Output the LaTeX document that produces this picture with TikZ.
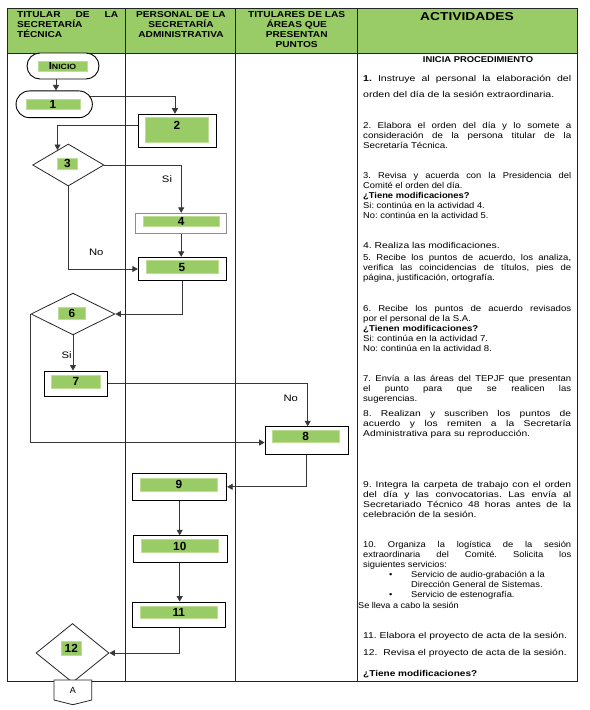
\documentclass[tikz,border=0pt]{standalone}
\usepackage{fontspec}
\usepackage{graphicx}
\setmainfont{Liberation Sans}
\usetikzlibrary{shapes.geometric,arrows.meta,calc}
\definecolor{hgreen}{RGB}{153,204,102}
\definecolor{lgreen}{RGB}{153,204,102}
\definecolor{lgborder}{RGB}{190,222,150}
\definecolor{tline}{RGB}{35,35,35}
\definecolor{cline}{RGB}{55,55,55}
\newlength{\pw}
\newcommand{\J}[1]{\makebox[\pw][s]{#1}}
\newcommand{\bodyfont}{\fontsize{8.5bp}{10bp}\selectfont\frenchspacing}
\newcommand{\actpara}[3]{\setlength{\pw}{#2}\scalebox{#1}[1]{\parbox[t]{\pw}{\bodyfont #3}}}
\newcommand{\hdfont}{\bfseries\fontsize{8.6bp}{10bp}\selectfont}
\newcommand{\hdbox}[2]{\scalebox{1.18}[1]{\parbox[t]{#1}{\centering\hdfont #2}}}
\begin{document}
\begin{tikzpicture}[x=1bp,y=-1bp,
  tbl/.style={draw=tline,line width=0.9bp},
  box/.style={draw=black,line width=0.9bp,fill=white,inner sep=0pt},
  dia/.style={shape=diamond,draw=black!85,line width=0.8bp,fill=white,inner sep=0pt},
  glab/.style={fill=lgreen,draw=lgborder,line width=0.6bp,inner sep=0pt},
  num/.style={inner sep=0pt,font=\bfseries\fontsize{11.8bp}{12bp}\selectfont},
  arr/.style={draw=cline,line width=0.8bp,-{Triangle[length=5.5bp,width=6bp]}},
  lbl/.style={inner sep=0pt,font=\fontsize{9.4bp}{10bp}\selectfont},
  body/.style={anchor=base west,inner sep=0pt}
]
\useasboundingbox (0,0) rectangle (590,710);
\fill[white] (0,0) rectangle (590,710);

% ---------- table ----------
\fill[hgreen] (7,8) rectangle (577.5,53);
\draw[tbl] (7,8) rectangle (577.5,681);
\draw[tbl] (7,53) -- (577.5,53);
\draw[tbl] (125,8) -- (125,681);
\draw[tbl] (235,8) -- (235,681);
\draw[tbl] (357,8) -- (357,681);

% ---------- header texts ----------
\node[body] (h1) at (17,17.7) {\scalebox{1.18}[1]{\parbox[t]{85.6bp}{\hdfont\makebox[85.6bp][s]{TITULAR DE LA}\\SECRETARÍA\\TÉCNICA}}};
\node[anchor=base,inner sep=0pt] (h2) at (181,17.7) {\hdbox{80bp}{PERSONAL DE LA\\SECRETARÍA\\ADMINISTRATIVA}};
\node[anchor=base,inner sep=0pt] (h3) at (296.7,17.7) {\hdbox{90bp}{TITULARES DE LAS\\ÁREAS QUE\\PRESENTAN\\PUNTOS}};
\node[anchor=base,inner sep=0pt] (h4) at (467,20.7) {\scalebox{1.2}[1]{\bfseries\fontsize{11.5bp}{12bp}\selectfont ACTIVIDADES}};

% ---------- flow nodes ----------
\node[box,rounded corners=13bp,minimum width=72bp,minimum height=26bp] (ini) at (63,66) {};
\node[glab,minimum width=49bp,minimum height=10bp] (inil) at (62.5,66) {};
\node[inner sep=0pt] (init) at (62.5,66) {\scalebox{1.15}[1]{\bfseries\fontsize{10bp}{10bp}\selectfont I\fontsize{7.6bp}{8bp}\selectfont NICIO}};

\node[box,rounded corners=13.3bp,minimum width=76.3bp,minimum height=26.7bp] (n1) at (54.2,104.3) {};
\node[glab,minimum width=54bp,minimum height=10bp] (n1l) at (53,104) {};
\node[num] (n1t) at (n1l.center) {1};

\node[box,line width=1.2bp,minimum width=78.3bp,minimum height=33.3bp] (n2) at (177.5,131) {};
\node[glab,minimum width=62.6bp,minimum height=25.4bp] (n2l) at (177,130) {};
\node[num] (n2t) at ([yshift=5bp]n2l.center) {2};

\node[dia,minimum width=71.3bp,minimum height=42bp] (d3) at (68.3,165) {};
\node[glab,minimum width=20bp,minimum height=11bp] (d3l) at (67.3,163.8) {};
\node[num] (d3t) at (d3l.center) {3};

\node[box,draw=black!45,minimum width=91bp,minimum height=20.4bp] (n4) at (181.2,223.5) {};
\node[glab,minimum width=75.7bp,minimum height=10bp] (n4l) at (181.2,221.7) {};
\node[num] (n4t) at (n4l.center) {4};

\node[box,minimum width=88.4bp,minimum height=23.4bp] (n5) at (182.5,269) {};
\node[glab,minimum width=72bp,minimum height=12.6bp] (n5l) at (182,267) {};
\node[num] (n5t) at (n5l.center) {5};

\node[dia,minimum width=84bp,minimum height=41.7bp] (d6) at (73,314) {};
\node[glab,minimum width=26.3bp,minimum height=12.3bp] (d6l) at (71.8,313) {};
\node[num] (d6t) at (d6l.center) {6};

\node[box,minimum width=63.4bp,minimum height=25bp] (n7) at (76,383.5) {};
\node[glab,minimum width=48.6bp,minimum height=13.3bp] (n7l) at (76,381.7) {};
\node[num] (n7t) at (n7l.center) {7};

\node[box,minimum width=83.3bp,minimum height=27.6bp] (n8) at (306.7,440.5) {};
\node[glab,minimum width=66.7bp,minimum height=12.7bp] (n8l) at (305.7,436.3) {};
\node[num] (n8t) at (n8l.center) {8};

\node[box,minimum width=94bp,minimum height=27bp] (n9) at (179.7,486.8) {};
\node[glab,minimum width=77.7bp,minimum height=12.7bp] (n9l) at (178.8,484.7) {};
\node[num] (n9t) at (n9l.center) {9};

\node[box,minimum width=94.4bp,minimum height=26.6bp] (n10) at (180.5,549) {};
\node[glab,minimum width=77.7bp,minimum height=13bp] (n10l) at (179.8,546.2) {};
\node[num] (n10t) at (n10l.center) {10};

\node[box,minimum width=93bp,minimum height=25.3bp] (n11) at (179.2,614.7) {};
\node[glab,minimum width=77.7bp,minimum height=12.7bp] (n11l) at (178.8,612.3) {};
\node[num] (n11t) at (n11l.center) {11};

\node[dia,minimum width=73bp,minimum height=59bp] (d12) at (72.5,653) {};
\node[glab,minimum width=20.7bp,minimum height=13.3bp] (d12l) at (71.3,648.3) {};
\node[num] (d12t) at (d12l.center) {12};

% off-page connector A
\coordinate (A) at (72.8,690);
\filldraw[fill=white,draw=black!85,line width=0.8bp] ([shift={(-18.85bp,10bp)}]A) -- ([shift={(18.85bp,10bp)}]A) -- ([shift={(18.85bp,-10bp)}]A) -- ([yshift=-14.7bp]A) -- ([shift={(-18.85bp,-10bp)}]A) -- cycle;
\node[inner sep=0pt,font=\fontsize{9bp}{10bp}\selectfont] (At) at (A) {A};

% ---------- connectors ----------
\coordinate (c1) at ([xshift=1.8bp]n1.north);
\draw[arr] (c1 |- ini.south) -- (c1);
\coordinate (c2a) at ([xshift=-2.4bp,yshift=7.6bp]n1.east);
\coordinate (c2b) at ([xshift=-2.5bp]n2.north);
\draw[arr] (c2a) -| (c2b);
\coordinate (c3a) at ([yshift=6bp]n2.west);
\coordinate (c3b) at ($(d3.north)!0.3!(d3.west)$);
\draw[arr] (c3a) -| (c3b);
\draw[arr] (d3.east) -| (n4.north);
\draw[arr] (n4.south) -- (n4.south |- n5.north);
\draw[arr] (d3.south) |- (n5.west);
\draw[arr] (n5.south) |- (d6.east);
\draw[arr] (d6.south) -- (d6.south |- n7.north);
\coordinate (c9) at ([xshift=1bp]n8.north);
\draw[arr] (n7.east) -| (c9);
\coordinate (c10) at ([yshift=-2bp]n8.west);
\draw[arr] (d6.west) |- (c10);
\draw[arr] (n8.south) |- (n9.east);
\draw[arr] (n9.south) -- (n9.south |- n10.north);
\draw[arr] (n9.south |- n10.south) -- (n9.south |- n11.north);
\draw[arr] (n11.south) |- (d12.east);

% connector labels
\node[lbl] (si1) at (167,179) {\scalebox{1.2}[1]{Si}};
\node[lbl] (no1) at (96.3,252.3) {\scalebox{1.2}[1]{No}};
\node[lbl] (si2) at (66.7,355) {\scalebox{1.2}[1]{Si}};
\node[lbl] (no2) at (290.8,398.7) {\scalebox{1.2}[1]{No}};

% ---------- activities ----------
\node[anchor=base,inner sep=0pt] (t0) at (478,62.7) {\scalebox{1.12}[1]{\bfseries\fontsize{8.4bp}{10bp}\selectfont INICIA PROCEDIMIENTO}};
\node[body] (t1) at (363,81.7) {\actpara{1.24}{167.7bp}{\J{\textbf{1.} Instruye al personal la elaboración del}\\[5.5bp]orden del día de la sesión extraordinaria.}};
\node[body] (t2) at (363,128.3) {\actpara{1.15}{180.9bp}{\J{2. Elabora el orden del día y lo somete a}\\\J{consideración de la persona titular de la}\\Secretaría Técnica.}};
\node[body] (t3) at (363,178.3) {\actpara{1.1}{189.1bp}{\J{3. Revisa y acuerda con la Presidencia del}\\Comité el orden del día.\\\textbf{¿Tiene modificaciones?}\\Si: continúa en la actividad 4.\\No: continúa en la actividad 5.}};
\node[body] (t4) at (363,248.3) {\actpara{1.22}{170.5bp}{4. Realiza las modificaciones.}};
\node[body] (t5) at (363,260.7) {\actpara{1.12}{185.7bp}{\J{5. Recibe los puntos de acuerdo, los analiza,}\\\J{verifica las coincidencias de títulos, pies de}\\página, justificación, ortografía.}};
\node[body] (t6) at (363,311.7) {\actpara{1.13}{184.1bp}{\J{6. Recibe los puntos de acuerdo revisados}\\por el personal de la S.A.\\\textbf{¿Tienen modificaciones?}\\Si: continúa en la actividad 7.\\No: continúa en la actividad 8.}};
\node[body] (t7) at (363,381.7) {\actpara{1.12}{185.7bp}{\J{7. Envía a las áreas del TEPJF que presentan}\\\J{el punto para que se realicen las}\\sugerencias.}};
\node[body] (t8) at (363,416.7) {\actpara{1.21}{171.9bp}{\J{8. Realizan y suscriben los puntos de}\\\J{acuerdo y los remiten a la Secretaría}\\Administrativa para su reproducción.}};
\node[body] (t9) at (363,487.3) {\actpara{1.21}{171.9bp}{\J{9. Integra la carpeta de trabajo con el orden}\\\J{del día y las convocatorias. Las envía al}\\\J{Secretariado Técnico 48 horas antes de la}\\celebración de la sesión.}};
\node[body] (t10) at (363,547.3) {\actpara{1.1}{189.1bp}{\J{10. Organiza la logística de la sesión}\\\J{extraordinaria del Comité. Solicita los}\\siguientes servicios:\\\hspace*{23.6bp}\makebox[20bp][l]{•}Servicio de audio-grabación a la\\\hspace*{43.6bp}Dirección General de Sistemas.\\\hspace*{23.6bp}\makebox[20bp][l]{•}Servicio de estenografía.}};
\node[body] (t10b) at (358,608.3) {\actpara{1.07}{190bp}{Se lleva a cabo la sesión}};
\node[body] (t11) at (363,638.3) {\actpara{1.22}{170.5bp}{11. Elabora el proyecto de acta de la sesión.}};
\node[body] (t12) at (363,655.7) {\actpara{1.22}{170.5bp}{12.\ \ Revisa el proyecto de acta de la sesión.}};
\node[body] (t13) at (363,676) {\actpara{1.18}{176bp}{\textbf{¿Tiene modificaciones?}}};
\end{tikzpicture}
\end{document}
